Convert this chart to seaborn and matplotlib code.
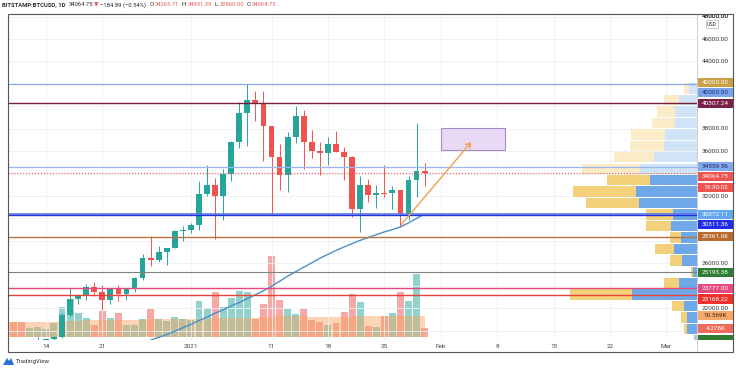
import numpy as np
import pandas as pd
import matplotlib
matplotlib.use("Agg")
import matplotlib.pyplot as plt
from matplotlib.patches import Rectangle, Polygon, FancyArrowPatch
import seaborn as sns

# ---------------- data ----------------
dates = pd.date_range("2020-12-09", "2021-01-30", freq="D")
opens = [18320, 18550, 18250, 18040, 18800, 19170, 19270, 19440, 21350, 22800, 23130, 23850,
         23470, 22720, 23820, 23250, 23720, 24700, 26450, 26250, 27040, 27370, 28880, 28990,
         29400, 32200, 33000, 31990, 33950, 36800, 39400, 40600, 40200, 38200, 35500, 33900,
         37300, 39150, 36800, 36000, 35800, 36600, 35900, 35500, 30850, 33000, 32100, 32300,
         32300, 32500, 30400, 33400, 34265.71]
highs = [18640, 18570, 18290, 18950, 19400, 19350, 19560, 21550, 23800, 23290, 24170, 24290,
         24100, 23840, 24100, 23790, 24790, 26870, 28400, 27500, 27400, 28990, 29300, 29600,
         33300, 34800, 33600, 34450, 36900, 40350, 41950, 41350, 41350, 38200, 36600, 37700,
         40000, 39700, 37900, 36800, 37300, 37800, 36400, 35600, 33800, 33500, 32950, 34800,
         32900, 32550, 33800, 38500, 34931.39]
lows = [17650, 17900, 17570, 18020, 18730, 19000, 19050, 19300, 21230, 22350, 22750, 23060,
        21820, 22350, 22600, 22700, 23450, 24500, 25800, 26100, 25850, 27330, 28000, 28700,
        28950, 32000, 28130, 29900, 33300, 36300, 36500, 38700, 35100, 30400, 32500, 32400,
        36700, 34400, 35400, 33900, 34800, 35900, 33400, 30100, 28800, 31500, 30900, 31900,
        30800, 29200, 29900, 31950, 32860.00]
closes = [18550, 18250, 18040, 18800, 19170, 19270, 19440, 21350, 22800, 23130, 23850, 23470,
          22720, 23820, 23250, 23720, 24700, 26450, 26250, 27040, 27370, 28880, 28990, 29400,
          32200, 33000, 31990, 33950, 36800, 39400, 40600, 40200, 38200, 35500, 33900, 37300,
          39150, 36800, 36000, 35800, 36600, 35900, 35500, 30850, 33000, 32100, 32300, 32250,
          32500, 30400, 33400, 34265.71, 34064.75]
volumes_k = [9.5, 7.5, 7.5, 4.5, 5.0, 4.0, 7.0, 15.0, 19.0, 12.0, 9.5, 6.0, 13.0, 9.5, 12.0,
             6.0, 6.0, 9.0, 14.0, 9.0, 8.0, 10.0, 9.0, 8.5, 18.0, 14.5, 22.5, 15.0, 19.5, 23.0,
             22.5, 9.0, 16.5, 40.5, 18.5, 14.0, 11.5, 14.0, 8.5, 7.5, 6.0, 7.0, 12.5, 21.5,
             17.5, 5.5, 5.0, 10.5, 12.0, 22.5, 18.0, 31.5, 4.276]
volume_ma_k = [7.5, 7.5, 7.5, 7.4, 7.4, 7.4, 7.5, 7.8, 8.0, 8.2, 8.3, 8.3,
               8.4, 8.5, 8.6, 8.6, 8.6, 8.7, 8.8, 8.8, 8.8, 8.8, 8.8, 8.8,
               9.0, 9.1, 9.3, 9.4, 9.5, 9.6, 9.7, 9.7, 9.8, 10.2, 10.3, 10.3,
               10.3, 10.3, 10.2, 10.2, 10.1, 10.0, 10.0, 10.2, 10.3, 10.3, 10.3, 10.3,
               10.4, 10.5, 10.5, 10.6, 10.569]
ma_dates = pd.date_range("2020-12-27", "2021-01-30", freq="D")
ma_values = [19150, 19400, 19650, 19950, 20250, 20550, 20900, 21200, 21550, 21850, 22200,
             22500, 22850, 23200, 23550, 23950, 24400, 24850, 25250, 25650, 26050, 26450,
             26800, 27150, 27450, 27750, 28050, 28300, 28550, 28800, 29000, 29250, 29600,
             30000, 30400]

# horizontal levels drawn on chart
level_prices = [42000.00, 40307.24, 34559.36, 34064.75, 30372.11, 30311.36, 28361.06,
                25193.38, 23777.00, 23168.22]
level_colors = ['#86a9e6', '#7a1c3a', '#9ab6ee', '#ef5350', '#5a7ee8', '#2430dc', '#b8743f',
                '#7c837c', '#e3487f', '#e8403a']
level_widths = [0.9, 1.0, 0.9, 0.8, 1.2, 1.0, 1.0, 0.8, 1.0, 1.0]
level_styles = ['-', '-', '-', ':', '-', '-', '-', '-', '-', '-']

# right axis labels: (value, text, background, text colour, pixel nudge, axis)
axis_labels = [
    (42000.00, "42000.00", '#c9a043', 'white', -1, 'p'),
    (42000.00, "42000.00", '#7ca4ea', '#1c2f6e', 9, 'p'),
    (40307.24, "40307.24", '#7a1f45', 'white', 1, 'p'),
    (34559.36, "34559.36", '#80a8ea', '#1a2a60', -1, 'p'),
    (34064.75, "34064.75", '#ef5350', 'white', 4, 'p'),
    (34064.75, "13:30:02", '#ef5350', 'white', 15, 'p'),
    (30372.11, "30372.11", '#62a6f0', 'white', 0, 'p'),
    (30311.36, "30311.36", '#1f2ee6', 'white', 9.5, 'p'),
    (28361.06, "28361.06", '#b86a30', 'white', 0, 'p'),
    (25193.38, "25193.38", '#2e7d32', 'white', 0, 'p'),
    (23777.00, "23777.00", '#e64980', 'white', 0, 'p'),
    (23168.22, "23168.22", '#f0302a', 'white', 4, 'p'),
    (10.569, "10.569K", '#f5a86c', '#4a2510', 0, 'v'),
    (4.276, "4.276K", '#ee6a5a', 'white', 0, 'v'),
]

# visible-range volume profile rows (price centre, up volume, down volume)
vp_centers = [41580, 40559, 39538, 38517, 37496, 36475, 35454, 34433, 33412, 32391, 31370,
              30349, 29328, 28307, 27286, 26265, 25244, 24223, 23202, 22181, 21160, 20139, 19118]
vp_up = [7.7, 18, 21.7, 21.7, 31.7, 33.3, 43.3, 56.7, 46.7, 61, 58.3, 24, 25.7, 15.7, 22.7,
         15, 4, 17.7, 65, 12.7, 10, 10, 3]
vp_down = [5.0, 15, 18.3, 23.3, 34.3, 33.4, 39.4, 58.3, 43.3, 63.3, 52.4, 26.7, 25.0, 11.6,
           19.0, 12.3, 2, 15.0, 62.3, 12.3, 6, 3, 0]

target_box = ("2021-02-01", "2021-02-09", 36102, 38064)
arrow_from = ("2021-01-27", 29280)
arrow_to = ("2021-02-05", 36994)

tick_dates = ["2020-12-14", "2020-12-21", "2021-01-01", "2021-01-11", "2021-01-18",
              "2021-01-25", "2021-02-01", "2021-02-08", "2021-02-15", "2021-02-22", "2021-03-01"]
tick_labels = ["14", "21", "2021", "11", "18", "25", "Feb", "8", "15", "22", "Mar"]
price_ticks = list(range(20000, 48001, 2000))

# ---------------- figure ----------------
sns.set_theme(style="white")
plt.rcParams['font.family'] = ['Roboto', 'DejaVu Sans']

W, H = 736, 371
fig = plt.figure(figsize=(W / 100, H / 100), dpi=100)
fig.patch.set_facecolor('white')

def fx(px):
    return px / W

def fy(py):
    return 1 - py / H

L, R, T, B = 8, 697, 14, 340
rect = [fx(L), fy(B), (R - L) / W, (B - T) / H]
vax = fig.add_axes(rect, zorder=0)
ax = fig.add_axes(rect, zorder=1)
ax.patch.set_alpha(0)

base = pd.Timestamp("2021-01-01")
def dnum(d):
    return (pd.Timestamp(d) - base).days

days = np.array([dnum(d) for d in dates], float)
XL = (-22.7, 62.8)
for a in (ax, vax):
    a.set_xlim(*XL)
    a.set_xticks([])
    a.set_yticks([])
    for s in a.spines.values():
        s.set_visible(False)
ax.set_ylim(19160, 48230)
vax.set_ylim(-1.5, 161.5)

UP, DN = '#26a69a', '#ef5350'
o = np.array(opens); c = np.array(closes)
cols = np.where(c >= o, UP, DN)

# grid
for td in tick_dates:
    ax.axvline(dnum(td), color='#eef0f4', lw=0.6, zorder=0)
for p in price_ticks:
    ax.axhline(p, color='#eef0f4', lw=0.6, zorder=0)

# volume
vax.bar(days, volumes_k, width=0.86, color=cols, alpha=0.5, linewidth=0)
vax.fill_between(days, volume_ma_k, step='mid', color='#f7a35c', alpha=0.45, lw=0)

# volume profile
trans = ax.get_yaxis_transform()
plot_w = R - L
for i, (cen, u, dd) in enumerate(zip(vp_centers, vp_up, vp_down)):
    light = i < 8
    bcol = '#d0e3f7' if light else '#6fa8e8'
    ycol = '#fcebc8' if light else '#f3d17a'
    if i == len(vp_centers) - 1:
        bcol = '#b9c4cf'
    hgt = 930
    ax.add_patch(Rectangle((1 - u / plot_w, cen - hgt / 2), u / plot_w, hgt,
                           transform=trans, facecolor=bcol, lw=0, zorder=1.5))
    ax.add_patch(Rectangle((1 - (u + dd) / plot_w, cen - hgt / 2), dd / plot_w, hgt,
                           transform=trans, facecolor=ycol, lw=0, zorder=1.5))

# candles
ax.vlines(days, lows, highs, colors=cols, lw=0.7, zorder=2)
body = c - o
body = np.where(np.abs(body) < 80, np.where(body >= 0, 80, -80), body)
ax.bar(days, body, bottom=o, width=0.72, color=cols, linewidth=0, zorder=2.1)

# moving average
ma_x = np.array([dnum(d) for d in ma_dates], float)
sns.lineplot(x=ma_x, y=ma_values, ax=ax, color='#4a90c8', lw=1.0, zorder=2.5)

# levels
for p, col, lw, ls in zip(level_prices, level_colors, level_widths, level_styles):
    ax.axhline(p, color=col, lw=lw, ls=ls, zorder=3)

# target box and arrow
x0, x1 = dnum(target_box[0]), dnum(target_box[1])
ax.add_patch(Rectangle((x0, target_box[2]), x1 - x0, target_box[3] - target_box[2],
                       facecolor='#ead9f4', edgecolor='#a58bcc', lw=0.8, zorder=3))
ax.add_patch(FancyArrowPatch((dnum(arrow_from[0]) - 0.1, arrow_from[1]),
                             (dnum(arrow_to[0]), arrow_to[1]),
                             arrowstyle='->,head_length=3,head_width=2',
                             color='#f5a04a', lw=1.0, zorder=3.5))
ax.set_xlabel(''); ax.set_ylabel('')

fig.canvas.draw()
renderer = fig.canvas.get_renderer()

def price_py(p, a=ax):
    return H - a.transData.transform((0, p))[1]

def x_px(d):
    return ax.transData.transform((d, 0))[0]

label_pys = [price_py(v, ax if w == 'p' else vax) + n for v, _, _, _, n, w in axis_labels]

# price axis tick labels (skip the ones hidden behind coloured labels)
for p in price_ticks + [48000]:
    py = price_py(p)
    if py < 5 or py > 345:
        continue
    if min(abs(py - lp) for lp in label_pys) < 7:
        continue
    fig.text(fx(715.5), fy(py), f"{p:.2f}", fontsize=4.6, color='#333333',
             ha='center', va='center', zorder=3)

# USD box
fig.patches.append(Rectangle((fx(706), fy(28)), 12 / W, 8 / H, transform=fig.transFigure,
                             facecolor='white', edgecolor='#b5b5b5', lw=0.5, zorder=4))
fig.text(fx(712), fy(24), "USD", fontsize=3.8, color='#333333', ha='center', va='center', zorder=5)

# coloured axis labels
for (val, txt, bg, fg, nudge, which), py in zip(axis_labels, label_pys):
    fig.patches.append(Rectangle((fx(698), fy(py + 4.6)), 35 / W, 9.2 / H,
                                 transform=fig.transFigure, facecolor=bg, lw=0, zorder=5))
    fig.text(fx(715.5), fy(py), txt, fontsize=4.6, color=fg, ha='center', va='center', zorder=6)
fig.patches.append(Rectangle((fx(698), fy(340)), 35 / W, 5 / H,
                             transform=fig.transFigure, facecolor='#2e7d32', lw=0, zorder=5))

# time axis labels
for td, lab in zip(tick_dates, tick_labels):
    fig.text(fx(x_px(dnum(td))), fy(346), lab, fontsize=4.6, color='#444444',
             ha='center', va='center')

# frame
fig.patches.append(Rectangle((fx(8), fy(352)), (733 - 8) / W, (352 - 14) / H,
                             transform=fig.transFigure, facecolor='none',
                             edgecolor='#555555', lw=0.8, zorder=7))
fig.lines.append(plt.Line2D([fx(697), fx(697)], [fy(14), fy(352)], transform=fig.transFigure,
                            color='#c8c8c8', lw=0.6, zorder=4))

# header
def seq_text(x, y, parts, size):
    for s, col, gap, bold in parts:
        t = fig.text(fx(x), fy(y), s, color=col, fontsize=size, ha='left', va='center',
                     fontweight='bold' if bold else 'normal')
        x += t.get_window_extent(renderer).width + gap

DK, RD = '#2b2b2b', '#e0605a'
seq_text(2, 5, [("BITSTAMP:BTCUSD, 1D", DK, 3, True), ("34064.75", DK, 1.5, False),
                ("▼", RD, 1.5, False), ("−184.89 (−0.54%)", DK, 3, False),
                ("O:", DK, 0.3, False), ("34265.71", RD, 2.5, False),
                ("H:", DK, 0.3, False), ("34931.39", RD, 2.5, False),
                ("L:", DK, 0.3, False), ("32860.00", RD, 2.5, False),
                ("C:", DK, 0.3, False), ("34064.75", RD, 0, False)], 4.2)

# TradingView logo
fig.patches.append(Polygon([(fx(3), fy(365)), (fx(7), fy(358)), (fx(9), fy(361)),
                            (fx(11), fy(358)), (fx(14), fy(365))], closed=True,
                           transform=fig.transFigure, facecolor='#2a6fdb', lw=0))
fig.text(fx(16), fy(362), "TradingView", fontsize=4.4, color='#333333', ha='left', va='center')

fig.savefig("out.png", dpi=100)
